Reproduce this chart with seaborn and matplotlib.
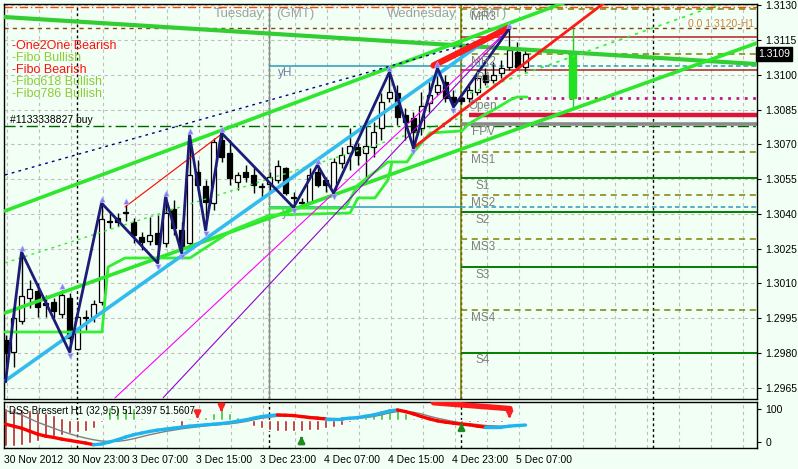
import matplotlib
matplotlib.use("Agg")
import matplotlib.pyplot as plt
import pandas as pd
import seaborn as sns

# ---------------- data ----------------
opens = [1.29857, 1.29805, 1.29939, 1.30038, 1.30068, 1.30016, 1.30020, 1.29969, 1.30038, 1.29818,
         1.29951, 1.29956, 1.30020, 1.30370, 1.30382, 1.30408, 1.30365, 1.30301, 1.30283, 1.30318,
         1.30275, 1.30421, 1.30331, 1.30275, 1.30581, 1.30520, 1.30447, 1.30719, 1.30663, 1.30538,
         1.30581, 1.30568, 1.30516, 1.30529, 1.30546, 1.30598, 1.30473, 1.30447, 1.30451, 1.30581,
         1.30546, 1.30503, 1.30619, 1.30663, 1.30688, 1.30663, 1.30688, 1.30770, 1.30900, 1.30921,
         1.30826, 1.30813, 1.30770, 1.30878, 1.30926, 1.30969, 1.30904, 1.30900, 1.30900, 1.30926,
         1.30999, 1.30977, 1.31007, 1.31033, 1.31100, 1.31033]
highs = [1.29878, 1.29995, 1.30236, 1.30115, 1.30102, 1.30051, 1.30038, 1.30072, 1.30059, 1.29960,
         1.29986, 1.30029, 1.30447, 1.30404, 1.30404, 1.30438, 1.30382, 1.30322, 1.30387, 1.30395,
         1.30473, 1.30460, 1.30365, 1.30740, 1.30632, 1.30546, 1.30727, 1.30749, 1.30719, 1.30581,
         1.30611, 1.30598, 1.30533, 1.30581, 1.30632, 1.30602, 1.30495, 1.30469, 1.30598, 1.30611,
         1.30559, 1.30641, 1.30688, 1.30770, 1.30706, 1.30805, 1.30796, 1.30921, 1.31012, 1.30956,
         1.30857, 1.30839, 1.30926, 1.30969, 1.31029, 1.30999, 1.30934, 1.30917, 1.30956, 1.31020,
         1.31029, 1.31055, 1.31063, 1.31200, 1.31140, 1.31110]
lows = [1.29676, 1.29740, 1.29926, 1.29995, 1.29956, 1.29956, 1.29951, 1.29951, 1.29805, 1.29814,
        1.29900, 1.29934, 1.30007, 1.30339, 1.30348, 1.30370, 1.30275, 1.30245, 1.30266, 1.30189,
        1.30257, 1.30309, 1.30232, 1.30262, 1.30503, 1.30331, 1.30417, 1.30624, 1.30525, 1.30503,
        1.30538, 1.30490, 1.30473, 1.30503, 1.30533, 1.30482, 1.30428, 1.30434, 1.30447, 1.30516,
        1.30495, 1.30490, 1.30598, 1.30589, 1.30611, 1.30538, 1.30645, 1.30719, 1.30882, 1.30783,
        1.30719, 1.30684, 1.30740, 1.30839, 1.30913, 1.30882, 1.30861, 1.30874, 1.30882, 1.30913,
        1.30956, 1.30964, 1.30986, 1.31020, 1.31020, 1.31012]
closes = [1.29801, 1.29951, 1.30046, 1.30076, 1.29999, 1.30007, 1.29982, 1.30051, 1.29865, 1.29956,
          1.29956, 1.30012, 1.30378, 1.30365, 1.30365, 1.30404, 1.30309, 1.30279, 1.30309, 1.30270,
          1.30404, 1.30339, 1.30253, 1.30568, 1.30525, 1.30451, 1.30710, 1.30645, 1.30555, 1.30568,
          1.30559, 1.30525, 1.30520, 1.30559, 1.30606, 1.30490, 1.30469, 1.30451, 1.30568, 1.30525,
          1.30525, 1.30624, 1.30654, 1.30693, 1.30654, 1.30693, 1.30753, 1.30882, 1.30926, 1.30818,
          1.30796, 1.30753, 1.30865, 1.30913, 1.30956, 1.30900, 1.30882, 1.30887, 1.30934, 1.30986,
          1.30969, 1.30999, 1.31029, 1.31107, 1.31033, 1.31090]

time_labels = ["30 Nov 2012", "30 Nov 23:00", "3 Dec 07:00", "3 Dec 15:00", "3 Dec 23:00",
               "4 Dec 07:00", "4 Dec 15:00", "4 Dec 23:00", "5 Dec 07:00"]
time_label_bars = [0, 8, 16, 24, 32, 40, 48, 56, 64]
day_start_bars = [8.9, 32.9, 56.9, 80.9]
day_names = ["Tuesday", "Wednesday"]
day_name_bars = [32.9, 56.9]
price_ticks = [1.2965, 1.2980, 1.2995, 1.3010, 1.3025, 1.3040, 1.3055, 1.3070, 1.3085,
               1.3100, 1.3115, 1.3130]
current_price = 1.3109

zz_bars = [0, 2, 8, 12, 19, 20, 22, 23, 25, 27, 36, 39, 41, 48, 51, 54, 56, 63]
zz_kind = ["L", "H", "L", "H", "L", "H", "L", "H", "L", "H", "L", "H", "L", "H", "L", "H", "L", "H"]
fractal_up = [2, 7, 12, 15, 20, 23, 27, 39, 48, 54, 63]
fractal_dn = [8, 19, 22, 25, 36, 41, 51, 56]

# pivot levels (start on the last day separator)
pivot_names = ["MR3", "R2", "MR2", "R1", "Open", "FPV", "MS1", "S1", "MS2", "S2", "MS3", "S3", "MS4", "S4"]
pivot_prices = [1.31283, 1.31163, 1.31090, 1.31020, 1.30900, 1.30788, 1.30667, 1.30555, 1.30482,
                1.30408, 1.30292, 1.30171, 1.29986, 1.29801]
pivot_label_shown = [True, False, True, True, True, True, True, True, True, True, True, True, True, True]
yh_price, yl_price = 1.31038, 1.30430
order_price = 1.30779
fibo_top_price = 1.31200
top_line_price = 1.31292
target_price = 1.30826

# trend-line anchors (bar, price)
desc_green = [(-0.19, 1.31249), (93.94, 1.31046)]
chan_upper = [(-0.06, 1.30413), (75.0, 1.31377)]
chan_lower = [(-0.06, 1.29973), (93.94, 1.31137)]
blue_line = [(-0.06, 1.29680), (62.19, 1.31201)]
red_thin = [(14.94, 1.30430), (27.19, 1.30749)]
navy_dotted = [(-0.06, 1.30568), (61.81, 1.31171)]
green_dot1 = [(-0.06, 1.30189), (56.81, 1.30813)]
green_dot2 = [(58.06, 1.30921), (88.94, 1.31300)]
magenta_1 = [(13.69, 1.29607), (62.81, 1.31193)]
violet_1 = [(19.69, 1.29607), (62.81, 1.31193)]
red_thick = [(53.5, 1.31040), (62.81, 1.31201)]
red_channel = [(50.94, 1.30684), (76.0, 1.31340)]
step_1 = [(-0.06, 1.29891), (12.06, 1.29891), (12.81, 1.30171), (14.94, 1.30210), (23.06, 1.30210),
          (25.94, 1.30275), (28.44, 1.30331), (33.06, 1.30395), (43.06, 1.30404), (44.06, 1.30469),
          (46.19, 1.30469), (47.81, 1.30546), (48.31, 1.30624)]
step_2 = [(33.06, 1.30425), (42.44, 1.30425), (44.06, 1.30525), (47.81, 1.30624), (50.19, 1.30624),
          (50.94, 1.30663), (53.06, 1.30749), (57.06, 1.30758), (58.06, 1.30792), (61.44, 1.30857),
          (63.06, 1.30891), (63.94, 1.30904), (65.19, 1.30904)]
proj_bar = 70.9
proj_body = (1.30900, 1.31090)
proj_wick = (1.30856, 1.31200)

legend_labels = ["-One2One Bearish", "-Fibo Bullish", "-Fibo Bearish", "-Fibo618 Bullish", "-Fibo786 Bullish"]
legend_colors = ["#FF1010", "#8CCB3A", "#FF1010", "#8CCB3A", "#8CCB3A"]

# DSS Bressert sub-window
dss = [54, 48, 42, 33, 24, 18, 14, 9, 5, 1, -3, -8, -6, 0, 7, 15, 22, 27, 32, 36,
       39, 42, 45, 48, 50, 52, 54, 56, 59, 63, 67, 72, 77, 80, 82, 81, 80, 77, 74, 72,
       70, 70, 70, 72, 74, 78, 82, 88, 94, 97, 92, 85, 77, 70, 64, 60, 57, 54, 52, 48,
       45, 45, 45, 48, 50, 51.24]
signal = [95, 89, 82, 71, 60, 51, 42, 33, 25, 18, 12, 7, 3, 2, 2, 5, 10, 16, 22, 27,
          32, 36, 40, 43, 46, 49, 51, 53, 55, 58, 62, 67, 72, 75, 78, 79, 80, 79, 77, 75,
          72, 71, 70, 70, 71, 74, 77, 82, 88, 92, 93, 90, 85, 78, 72, 67, 62, 58, 55, 53,
          50, 49, 48, 49, 50, 51.56]
hist_hi = [102, 102, 100, 97, 92, 87, 82, 72, 67, 67, 67, 67, 67, 107, 107, 104, 102, 72, 70, 70,
           70, 67, 67, 72, 67, 77, 87, 102, 87, 77, 70, 67, 67, 67, 67, 67, 67, 67, 67, 67,
           67, 67, 67, 67, 72, 77, 87, 97, 102, 100, 87, 74, 72, 72, 72, 67, 67, 67, 67, 67,
           67, 67, 67, 67, 69, 69]
hist_lo = [-13, -13, -8, -3, 4, 12, 17, 22, 27, 30, 32, 42, 60, 67, 67, 67, 67, 67, 67, 67,
           67, 62, 42, 67, 60, 67, 67, 67, 67, 67, 67, 47, 42, 37, 34, 34, 34, 32, 37, 37,
           42, 44, 50, 60, 67, 67, 67, 67, 67, 67, 67, 67, 67, 67, 67, 67, 67, 62, 62, 62,
           62, 62, 62, 67, 67, 67]
hist_base = 67
sell_arrow_bars = [24, 27, 63]
sell_arrow_tips = [62, 82, 62]
buy_arrow_bars = [37, 57]
buy_arrow_tips = [27, 67]
dss_trend = [(53.5, 119), (63.06, 101)]

# ---------------- style ----------------
sns.set_style("white")
plt.rcParams['font.family'] = ['Liberation Sans', 'DejaVu Sans']
BG = "#F2FFF4"

fig = plt.figure(figsize=(7.98, 4.69), dpi=100, facecolor=BG)
ax = fig.add_axes([4 / 798, 1 - 399 / 469, 753 / 798, 395 / 469], facecolor=BG)
ax2 = fig.add_axes([4 / 798, 1 - 448 / 469, 753 / 798, 46 / 469], facecolor=BG)

XMIN, XMAX = -0.19, 93.94
ax.set_xlim(XMIN, XMAX)
ax.set_ylim(1.29602, 1.31305)
ax2.set_xlim(XMIN, XMAX)
ax2.set_ylim(-18, 121)

grid_kw = dict(color="#BEBEBE", lw=0.8, ls=(0, (3, 3)), zorder=0.5)
k = 0.15
while k < XMAX:
    ax.axvline(k, **grid_kw)
    ax2.axvline(k, **grid_kw)
    k += 4
for p in price_ticks:
    ax.axhline(p, **grid_kw)

for d in day_start_bars:
    ax.axvline(d, color="black", lw=1, ls=(0, (2, 2)), zorder=1)
    ax2.axvline(d, color="black", lw=1, ls=(0, (2, 2)), zorder=1)
ax.axvline(day_name_bars[0], color="#8C8C8C", lw=1, zorder=1.2)
ax.axvline(day_name_bars[1], color="#808000", lw=1.2, zorder=1.2)

# full width lines
ax.axhline(top_line_price, color="#FF4500", lw=1, ls=(0, (6, 2, 1, 2)), zorder=2)
ax.axhline(fibo_top_price, color="#8B4513", lw=1, ls=(0, (3, 3)), zorder=2)
ax.axhline(order_price, color="#006400", lw=1, ls=(0, (8, 3, 2, 3)), zorder=2)

# pivots
px0 = day_start_bars[2]
for name, pr, show in zip(pivot_names, pivot_prices, pivot_label_shown):
    if name.startswith("M"):
        kw = dict(color="#808000", lw=1.1, ls=(0, (4, 3)))
    elif name.startswith("R"):
        kw = dict(color="#B22222", lw=1.1, ls="-")
    elif name.startswith("S"):
        kw = dict(color="#008000", lw=1.4, ls="-")
    elif name == "Open":
        kw = dict(color="#C71585", lw=2, ls=(0, (1, 2)))
    else:
        kw = dict(color="#8A8A8A", lw=2.6, ls="-")
    ax.hlines(pr, px0, XMAX, zorder=2, **kw)
    if show:
        ax.text(59.7, pr - 0.00033, name, color="#7F7F7F", fontsize=8.5, ha="center", va="center", zorder=8)
ax.hlines(target_price, 58.0, XMAX, color="#DC143C", lw=3.2, zorder=2.1)
for pr in (yh_price, yl_price):
    ax.hlines(pr, day_name_bars[0], px0, color="#2A9AB8", lw=1.1, zorder=2)
    ax.hlines(pr, px0, XMAX, color="#2A9AB8", lw=1.1, ls=(0, (3, 2)), zorder=2)
ax.text(34.1, yh_price - 0.00030, "yH", color="#7080A0", fontsize=8.5, va="center", zorder=8)
ax.text(34.6, yl_price - 0.00025, "yL", color="#7080A0", fontsize=8.5, va="center", zorder=2.05)

# candles
for i, (o, h, l, c) in enumerate(zip(opens, highs, lows, closes)):
    ax.vlines(i, l, h, color="black", lw=1, zorder=2.4)
    bottom = min(o, c)
    height = max(abs(c - o), 0.000015)
    face = "white" if c >= o else "black"
    ax.bar(i, height, bottom=bottom, width=0.72, color=face, edgecolor="black", linewidth=0.9, zorder=2.5)

# projected candle
ax.vlines(proj_bar, proj_wick[0], proj_wick[1], color="#22CC22", lw=1, zorder=3)
ax.bar(proj_bar, proj_body[1] - proj_body[0], bottom=proj_body[0], width=0.9, color="#22E022",
       edgecolor="#22E022", zorder=3)


def draw(pts, **kw):
    xs = [p[0] for p in pts]
    ys = [p[1] for p in pts]
    ax.plot(xs, ys, **kw)


draw(desc_green, color="#32CD32", lw=3, zorder=3)
draw(chan_upper, color="#2EE62E", lw=2.6, zorder=3)
draw(chan_lower, color="#2EE62E", lw=2.6, zorder=3)
draw(step_1, color="#33EE33", lw=2, zorder=3)
draw(step_2, color="#33EE33", lw=2, zorder=3)
draw(green_dot1, color="#33EE33", lw=1, ls=(0, (2, 3)), zorder=3)
draw(green_dot2, color="#33EE33", lw=1.2, ls=(0, (2, 3)), zorder=3)
draw(magenta_1, color="#FF00FF", lw=0.8, zorder=3)
draw(violet_1, color="#9400D3", lw=0.8, zorder=3)
draw(navy_dotted, color="#000080", lw=1, ls=(0, (2, 3)), zorder=3)
draw(blue_line, color="#33BBEE", lw=2.6, zorder=3.2)
draw(red_thin, color="#FF0000", lw=0.8, zorder=3)
draw(red_channel, color="#FF1A1A", lw=2, zorder=3.5)
draw(red_thick, color="#FF1A1A", lw=4.5, zorder=3.5)

# zigzag
zz_df = pd.DataFrame({
    "bar": zz_bars,
    "price": [highs[b] if kd == "H" else lows[b] for b, kd in zip(zz_bars, zz_kind)],
})
sns.lineplot(data=zz_df, x="bar", y="price", sort=False, estimator=None, color="#1C1C78",
             lw=2, ax=ax, zorder=4)
ax.scatter(fractal_up, [highs[b] + 0.00016 for b in fractal_up], marker="^", s=16,
           color="#8C7CF0", edgecolors="#B0C8FF", linewidths=0.4, zorder=5)
ax.scatter(fractal_dn, [lows[b] - 0.00016 for b in fractal_dn], marker="v", s=16,
           color="#8C7CF0", edgecolors="#B0C8FF", linewidths=0.4, zorder=5)

# texts
for j, (lab, col) in enumerate(zip(legend_labels, legend_colors)):
    ax.text(0.0105, 0.894 - 0.0304 * j, lab, color=col, fontsize=9, transform=ax.transAxes,
            ha="left", va="center", zorder=8)
ax.text(0.56, 1.30805, "#1133338827 buy", color="black", fontsize=7.5, ha="left", va="center", zorder=8)
ax.text(93.55, 1.31218, "0.0 1.3120-H1", color="#CD853F", fontsize=7.5, ha="right", va="center", zorder=8)
for nm, b in zip(day_names, day_name_bars):
    ax.text(b - 0.55, 0.975, nm, color="#A0A0A0", fontsize=9.5, ha="right", va="center",
            transform=ax.get_xaxis_transform(), zorder=8)
    ax.text(b + 0.9, 0.975, "(GMT)", color="#A0A0A0", fontsize=9.5, ha="left", va="center",
            transform=ax.get_xaxis_transform(), zorder=7)

# axes styling main
ax.set_xlabel("")
ax.set_ylabel("")
ax.set_xticks([])
ax.yaxis.tick_right()
ax.set_yticks(price_ticks)
ax.set_yticklabels([f"{p:.4f}" for p in price_ticks])
ax.tick_params(axis="y", length=3, width=0.8, pad=3, labelsize=7.5, colors="black", direction="out")
for s in ax.spines.values():
    s.set_color("black")
    s.set_linewidth(1)
ax.text(1.0015, current_price, f"{current_price:.4f}", transform=ax.get_yaxis_transform(),
        color="white", fontsize=7.5, ha="left", va="center",
        bbox=dict(facecolor="black", edgecolor="black", pad=1.6), zorder=10, clip_on=False)

# ---------------- sub window ----------------
bars = list(range(len(dss)))
for i, (hi, lo) in enumerate(zip(hist_hi, hist_lo)):
    if hi - lo <= 0:
        continue
    col = "#2ECC2E" if lo >= hist_base else "#B22222"
    ax2.bar(i, hi - lo, bottom=lo, width=0.45, color=col, zorder=2)

sns.lineplot(x=bars, y=signal, ax=ax2, color="#7F7F7F", lw=1, zorder=3)
for i in range(len(dss) - 1):
    col = "#1EB4F0" if dss[i + 1] >= dss[i] else "#FF0000"
    ax2.plot([i, i + 1], [dss[i], dss[i + 1]], color=col, lw=2.4, solid_capstyle="round", zorder=4)
ax2.plot([p[0] for p in dss_trend], [p[1] for p in dss_trend], color="#FF1A1A", lw=4, zorder=4)

for b, t in zip(sell_arrow_bars, sell_arrow_tips):
    ax2.annotate("", xy=(b, t), xytext=(b, t + 26),
                 arrowprops=dict(arrowstyle="-|>", color="#FF2020", lw=2, mutation_scale=9), zorder=5)
for b, t in zip(buy_arrow_bars, buy_arrow_tips):
    ax2.annotate("", xy=(b, t), xytext=(b, t - 26),
                 arrowprops=dict(arrowstyle="-|>", color="#1E8B1E", lw=2, mutation_scale=9), zorder=5)

ax2.text(0.006, 0.80, "DSS Bressert H1 (32,9,5) 51.2397 51.5607", transform=ax2.transAxes,
         fontsize=7, color="black", ha="left", va="center", zorder=8)
ax2.set_xlabel("")
ax2.set_ylabel("")
ax2.yaxis.tick_right()
ax2.set_yticks([0, 100])
ax2.set_yticklabels(["0", "100"])
ax2.tick_params(axis="y", length=3, width=0.8, pad=3, labelsize=7.5, colors="black")
ax2.set_xticks([b - 0.19 for b in time_label_bars])
ax2.set_xticklabels(time_labels, ha="left")
ax2.tick_params(axis="x", length=3, width=0.8, pad=2, labelsize=7.5, colors="black")
for s in ax2.spines.values():
    s.set_color("black")
    s.set_linewidth(1)

fig.savefig("out.png", dpi=100, facecolor=BG)
